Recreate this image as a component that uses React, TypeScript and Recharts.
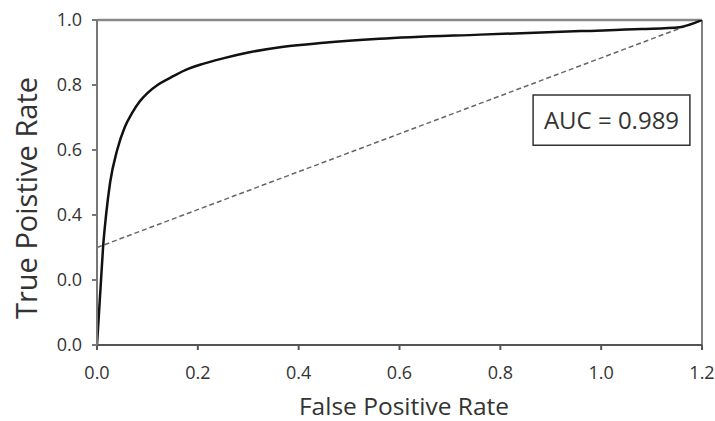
import React from 'react';
import { LineChart, Line, XAxis, YAxis, ReferenceLine, ReferenceArea, Label } from 'recharts';

const xTicks = [0, 0.2, 0.4, 0.6, 0.8, 1.0, 1.2];
const yTicks = [0, 0.2, 0.4, 0.6, 0.8, 1.0];
const yTickLabels = ['0.0', '0.0', '0.4', '0.6', '0.8', '1.0'];

const rocFpr = [0, 0.004, 0.008, 0.012, 0.018, 0.026, 0.04, 0.055, 0.07, 0.085, 0.1, 0.12, 0.145, 0.175, 0.21, 0.25, 0.3, 0.37, 0.45, 0.56, 0.76, 0.96, 1.08, 1.156, 1.2];
const rocTpr = [0, 0.1, 0.2, 0.3, 0.4, 0.5, 0.6, 0.67, 0.715, 0.75, 0.775, 0.8, 0.822, 0.846, 0.865, 0.882, 0.9, 0.918, 0.93, 0.942, 0.955, 0.966, 0.972, 0.978, 1.0];

const refFpr = [0, 1.2];
const refTpr = [0.3, 1.0];

const aucText = 'AUC = 0.989';
const aucBoxX = [0.865, 1.176];
const aucBoxY = [0.615, 0.769];

const xTitle = 'False Positive Rate';
const yTitle = 'True Poistive Rate';

const rocData = rocFpr.map((x, i) => ({ x, y: rocTpr[i] }));
const refData = refFpr.map((x, i) => ({ x, y: refTpr[i] }));

const FONT = '"Open Sans", sans-serif';
const TEXT = '#333';

export default function App() {
  return (
    <div style={{ position: 'absolute', left: 0, top: 0 }}>
      <LineChart width={715} height={421} margin={{ top: 20, right: 13, bottom: 0, left: 0 }} style={{ fontFamily: FONT }}>
        <XAxis
          type="number"
          dataKey="x"
          domain={[0, 1.2]}
          ticks={xTicks}
          tickFormatter={(v: number) => v.toFixed(1)}
          height={76}
          tickSize={5}
          tickMargin={16}
          stroke="#555"
          strokeWidth={2}
          tick={{ fill: TEXT, fontSize: 18, fontFamily: FONT }}
          allowDataOverflow
        >
          <Label
            content={() => (
              <text x={404} y={405} textAnchor="middle" dominantBaseline="central" fill={TEXT} fontSize={24.5} fontFamily={FONT}>
                {xTitle}
              </text>
            )}
          />
        </XAxis>
        <YAxis
          type="number"
          dataKey="y"
          domain={[0, 1]}
          ticks={yTicks}
          tickFormatter={(v: number) => yTickLabels[yTicks.findIndex((t) => Math.abs(t - v) < 1e-6)] ?? ''}
          width={97}
          tickSize={5}
          tickMargin={10}
          stroke="#777"
          strokeWidth={2}
          tick={{ fill: TEXT, fontSize: 18, fontFamily: FONT }}
          allowDataOverflow
        >
          <Label
            content={() => (
              <text x={25} y={198} transform="rotate(-90 25 198)" textAnchor="middle" dominantBaseline="central" fill={TEXT} fontSize={29} fontFamily={FONT}>
                {yTitle}
              </text>
            )}
          />
        </YAxis>
        <ReferenceLine y={1} stroke="#888" strokeWidth={2.5} />
        <ReferenceLine x={1.2} stroke="#555" strokeWidth={1.5} />
        <ReferenceArea
          x1={aucBoxX[0]}
          x2={aucBoxX[1]}
          y1={aucBoxY[0]}
          y2={aucBoxY[1]}
          fill="#fff"
          fillOpacity={1}
          stroke="#333"
          strokeWidth={1.5}
        >
          <Label value={aucText} position="center" fill={TEXT} fontSize={24} fontFamily={FONT} />
        </ReferenceArea>
        <Line data={refData} dataKey="y" type="linear" stroke="#666" strokeWidth={1.5} strokeDasharray="5 3" dot={false} isAnimationActive={false} />
        <Line data={rocData} dataKey="y" type="monotone" stroke="#111" strokeWidth={2.5} dot={false} isAnimationActive={false} />
      </LineChart>
    </div>
  );
}
